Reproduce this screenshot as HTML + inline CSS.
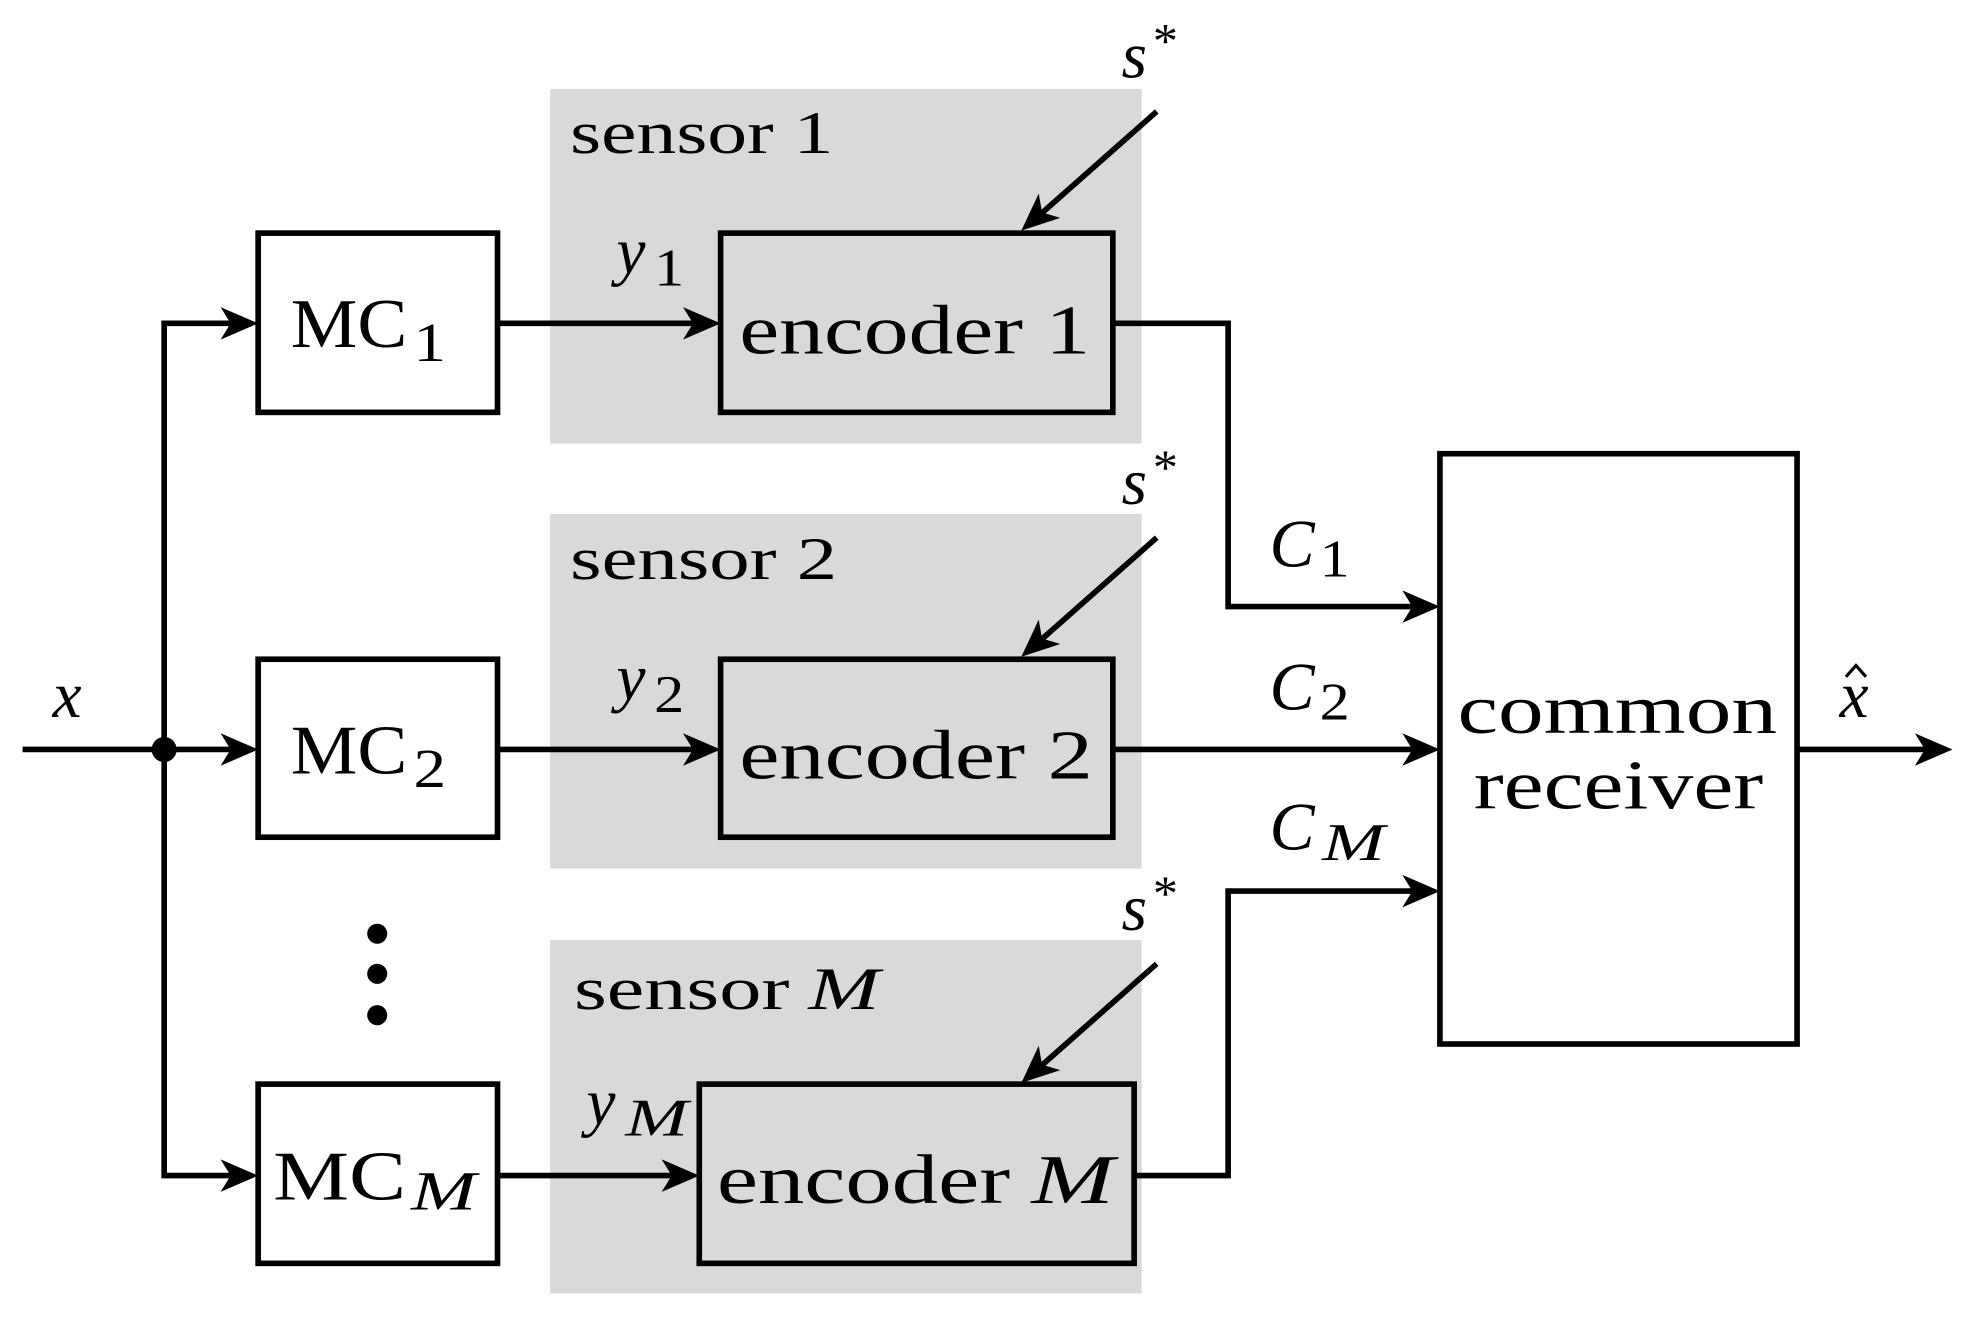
<!DOCTYPE html>
<html><head><meta charset="utf-8"><style>
html,body{margin:0;padding:0;background:#fff;}
svg{display:block;}
text{font-family:"Liberation Serif","DejaVu Serif",serif;fill:#000;}
.it{font-style:italic;}
</style></head><body>
<svg width="1965" height="1321" viewBox="0 0 1568 1054" preserveAspectRatio="none" xmlns="http://www.w3.org/2000/svg">
<rect x="439" y="71" width="472" height="283" fill="#d9d9d9"/>
<rect x="439" y="410" width="472" height="283" fill="#d9d9d9"/>
<rect x="439" y="750" width="472" height="282" fill="#d9d9d9"/>

<g stroke="#000" stroke-width="4.5" fill="none">
<rect x="206" y="186" width="191" height="143" fill="#fff"/>
<rect x="206" y="526" width="191" height="142" fill="#fff"/>
<rect x="206" y="865" width="191" height="143" fill="#fff"/>
<rect x="575" y="186" width="313" height="143"/>
<rect x="575" y="526" width="313" height="142"/>
<rect x="558" y="865" width="347" height="143"/>
<rect x="1149" y="362" width="285" height="471" fill="#fff"/>
<line x1="18" y1="598" x2="200" y2="598"/>
<polyline points="200,258 131,258 131,938 200,938"/>
<line x1="397" y1="258" x2="569" y2="258"/>
<line x1="397" y1="598" x2="569" y2="598"/>
<line x1="397" y1="938" x2="552" y2="938"/>
<polyline points="888,258 980,258 980,484 1143,484"/>
<line x1="888" y1="598" x2="1143" y2="598"/>
<polyline points="905,938 980,938 980,711 1143,711"/>
<line x1="1434" y1="598" x2="1552" y2="598"/>
<line x1="923" y1="89" x2="820" y2="180"/>
<line x1="923" y1="429" x2="820" y2="520"/>
<line x1="923" y1="769" x2="820" y2="860"/>
</g>
<g fill="#000">
<circle cx="131" cy="598" r="10"/>
<circle cx="301" cy="745" r="8"/>
<circle cx="301" cy="777" r="8"/>
<circle cx="301" cy="810" r="8"/>
<path d="M0,0 L-30,-13 L-22,0 L-30,13 Z" transform="translate(206,258)"/>
<path d="M0,0 L-30,-13 L-22,0 L-30,13 Z" transform="translate(206,598)"/>
<path d="M0,0 L-30,-13 L-22,0 L-30,13 Z" transform="translate(206,938)"/>
<path d="M0,0 L-30,-13 L-22,0 L-30,13 Z" transform="translate(575,258)"/>
<path d="M0,0 L-30,-13 L-22,0 L-30,13 Z" transform="translate(575,598)"/>
<path d="M0,0 L-30,-13 L-22,0 L-30,13 Z" transform="translate(558,938)"/>
<path d="M0,0 L-30,-13 L-22,0 L-30,13 Z" transform="translate(1149,484)"/>
<path d="M0,0 L-30,-13 L-22,0 L-30,13 Z" transform="translate(1149,598)"/>
<path d="M0,0 L-30,-13 L-22,0 L-30,13 Z" transform="translate(1149,711)"/>
<path d="M0,0 L-30,-13 L-22,0 L-30,13 Z" transform="translate(1558,598)"/>
<path d="M0,0 L-30,-13 L-22,0 L-30,13 Z" transform="translate(815,184) rotate(138.5)"/>
<path d="M0,0 L-30,-13 L-22,0 L-30,13 Z" transform="translate(815,524) rotate(138.5)"/>
<path d="M0,0 L-30,-13 L-22,0 L-30,13 Z" transform="translate(815,864) rotate(138.5)"/>
</g>

<text x="455" y="122" font-size="48" textLength="210" lengthAdjust="spacingAndGlyphs">sensor 1</text>
<text x="455" y="462" font-size="48" textLength="213" lengthAdjust="spacingAndGlyphs">sensor 2</text>
<text x="458" y="805" font-size="48" textLength="172" lengthAdjust="spacingAndGlyphs">sensor</text>
<text x="645" y="805" font-size="48" class="it" textLength="57" lengthAdjust="spacingAndGlyphs">M</text>

<text x="590" y="282" font-size="56" textLength="280" lengthAdjust="spacingAndGlyphs">encoder 1</text>
<text x="590" y="621" font-size="56" textLength="282" lengthAdjust="spacingAndGlyphs">encoder 2</text>
<text x="572" y="960" font-size="56" textLength="234" lengthAdjust="spacingAndGlyphs">encoder</text>
<text x="823" y="960" font-size="56" class="it" textLength="66" lengthAdjust="spacingAndGlyphs">M</text>

<text x="232" y="277" font-size="56" textLength="93" lengthAdjust="spacingAndGlyphs">MC</text>
<text x="330" y="288" font-size="44" textLength="26" lengthAdjust="spacingAndGlyphs">1</text>
<text x="232" y="617" font-size="56" textLength="93" lengthAdjust="spacingAndGlyphs">MC</text>
<text x="330" y="628" font-size="44" textLength="26" lengthAdjust="spacingAndGlyphs">2</text>
<text x="218" y="957" font-size="56" textLength="106" lengthAdjust="spacingAndGlyphs">MC</text>
<text x="328" y="965" font-size="44" class="it" textLength="52" lengthAdjust="spacingAndGlyphs">M</text>

<text x="1163" y="585" font-size="56" textLength="255" lengthAdjust="spacingAndGlyphs">common</text>
<text x="1176" y="645" font-size="56" textLength="231" lengthAdjust="spacingAndGlyphs">receiver</text>

<text x="492" y="218" font-size="52" class="it">y</text>
<text x="522" y="228" font-size="42" textLength="24" lengthAdjust="spacingAndGlyphs">1</text>
<text x="492" y="558" font-size="52" class="it">y</text>
<text x="522" y="568" font-size="42" textLength="24" lengthAdjust="spacingAndGlyphs">2</text>
<text x="468" y="897" font-size="52" class="it">y</text>
<text x="499" y="906" font-size="42" class="it" textLength="50" lengthAdjust="spacingAndGlyphs">M</text>

<text x="895" y="62" font-size="52" class="it">s</text>
<text x="920" y="46" font-size="40">*</text>
<text x="895" y="402" font-size="52" class="it">s</text>
<text x="920" y="386" font-size="40">*</text>
<text x="895" y="742" font-size="52" class="it">s</text>
<text x="920" y="726" font-size="40">*</text>

<text x="1013" y="452" font-size="54" class="it">C</text>
<text x="1053" y="460" font-size="42" textLength="24" lengthAdjust="spacingAndGlyphs">1</text>
<text x="1013" y="566" font-size="54" class="it">C</text>
<text x="1053" y="574" font-size="42" textLength="24" lengthAdjust="spacingAndGlyphs">2</text>
<text x="1013" y="678" font-size="54" class="it">C</text>
<text x="1055" y="686" font-size="42" class="it" textLength="50" lengthAdjust="spacingAndGlyphs">M</text>

<text x="42" y="572" font-size="52" class="it">x</text>
<text x="1468" y="572" font-size="52" class="it">x</text>
<path d="M1473,540 L1481,531 L1489,540" stroke="#000" stroke-width="2.5" fill="none"/>
</svg>
</body></html>
